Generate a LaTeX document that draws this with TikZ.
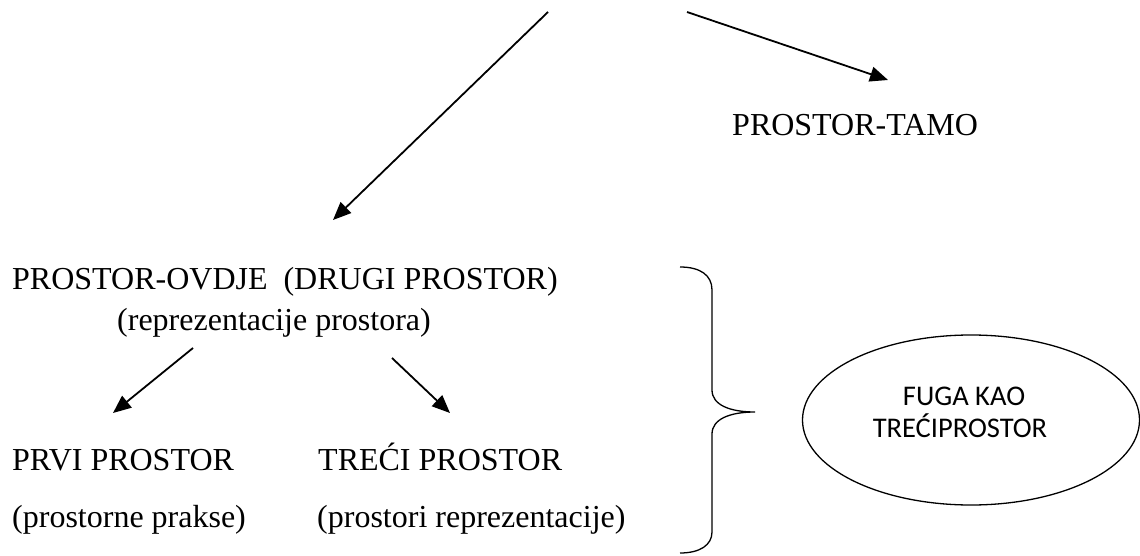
\documentclass[tikz,border=0pt]{standalone}
\usepackage{fontspec}
\setmainfont{Liberation Serif}
\newfontfamily\calib{Carlito}
\usetikzlibrary{arrows.meta,shapes.geometric}
\tikzset{
  lbl/.style={anchor=base west,inner sep=0pt,font=\fontsize{32}{38}\selectfont},
  elbl/.style={anchor=base,inner sep=0pt,font=\calib\fontsize{28.5}{34}\selectfont},
  arr/.style={line width=1.8pt,-{Triangle[length=18pt,width=15pt]}},
  thin/.style={line width=1.3pt}
}
\begin{document}
\begin{tikzpicture}[x=1pt,y=-1pt]
\useasboundingbox (0,0) rectangle (1140,556);
% texts
\node[lbl] (tamo) at (732,136) {PROSTOR-TAMO};
\node[lbl] (ovdje) at (12,289) {PROSTOR-OVDJE\ \ (DRUGI PROSTOR)};
\node[lbl] (repr) at (117,330) {(reprezentacije prostora)};
\node[lbl] (prvi) at (12,470) {PRVI PROSTOR};
\node[lbl] (treci) at (318,470) {TREĆI PROSTOR};
\node[lbl] (prakse) at (12,527) {(prostorne prakse)};
\node[lbl] (prostori) at (317,527) {(prostori reprezentacije)};
% ellipse
\node[draw,thin,ellipse,minimum width=337pt,minimum height=170pt,inner sep=0pt] (fuga) at (971,420) {};
\node[elbl] (fugaA) at (964,405) {FUGA KAO};
\node[elbl] (fugaB) at (960,437) {TREĆIPROSTOR};
% arrow ends
\coordinate (s1) at (548,12);
\coordinate (e1) at (333,220);
\coordinate (s2) at (687,12);
\coordinate (e2) at (888,80);
\coordinate (s3) at (193,348);
\coordinate (e3) at (113,413);
\coordinate (s4) at (392,358);
\coordinate (e4) at (450,413);
\draw[arr] (s1) -- (e1);
\draw[arr] (s2) -- (e2);
\draw[arr] (s3) -- (e3);
\draw[arr] (s4) -- (e4);
% brace
\draw[thin] (680,267) .. controls (700,267) and (712,275) .. (712,290)
  -- (712,390) .. controls (712,405) and (730,412) .. (755,412)
  .. controls (730,412) and (712,419) .. (712,434)
  -- (712,532) .. controls (712,545) and (700,553) .. (680,553);
\end{tikzpicture}
\end{document}
